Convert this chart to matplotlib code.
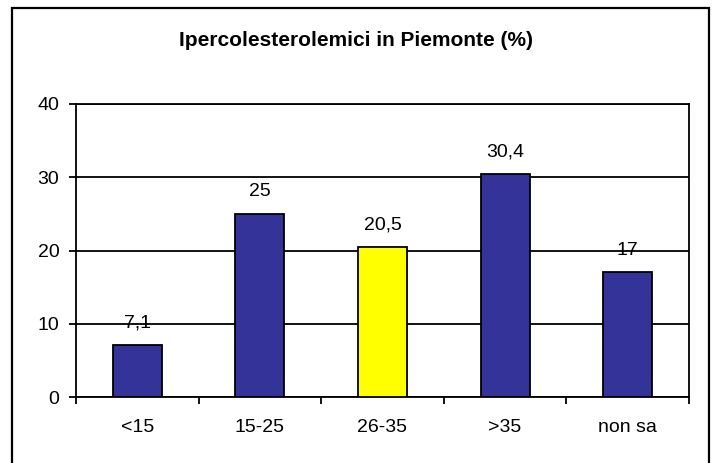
import matplotlib.pyplot as plt
import numpy as np
from matplotlib.patches import Rectangle

# data
categories = ['<15', '15-25', '26-35', '>35', 'non sa']
values = [7.1, 25, 20.5, 30.4, 17]
value_labels = ['7,1', '25', '20,5', '30,4', '17']
bar_colors = ['#333399', '#333399', '#FFFF00', '#333399', '#333399']

plt.rcParams['font.family'] = ['Liberation Sans', 'DejaVu Sans']

W, H = 712, 463
fig = plt.figure(figsize=(W / 100, H / 100), dpi=100)

# outer chart border (bottom edge falls outside the image, as in the original)
fig.patches.append(Rectangle((12 / W, -5 / H), (709 - 12) / W, (H - 8 + 5) / H,
                             transform=fig.transFigure, fill=False,
                             edgecolor='black', linewidth=1.6))

ax = fig.add_axes([76 / W, (H - 397) / H, (689 - 76) / W, (397 - 104) / H])

x = np.arange(len(categories))
ax.bar(x, values, width=0.4, color=bar_colors, edgecolor='black', linewidth=1.3, zorder=3)

for xi, v, lab in zip(x, values, value_labels):
    ax.text(xi, v + 2.4, lab, ha='center', va='baseline', fontsize=14, zorder=4)

ax.set_xlim(-0.5, len(categories) - 0.5)
ax.set_ylim(0, 40)
ax.set_yticks([0, 10, 20, 30, 40])
ax.set_xticks(x)
ax.set_xticklabels(categories, fontsize=14)
ax.set_xticks(np.arange(len(categories) + 1) - 0.5, minor=True)
ax.tick_params(axis='x', which='major', length=0, pad=16)
ax.tick_params(axis='x', which='minor', length=5, width=1.3, direction='out')
ax.tick_params(axis='y', length=5, width=1.3, direction='out', labelsize=14, pad=7)

ax.grid(axis='y', color='black', linewidth=1.3, zorder=1)
for s in ax.spines.values():
    s.set_linewidth(1.3)

fig.text(0.5, 1 - 40 / H, 'Ipercolesterolemici in Piemonte (%)', ha='center', va='center',
         fontsize=15, fontweight='bold')

fig.savefig('out.png', dpi=100)
